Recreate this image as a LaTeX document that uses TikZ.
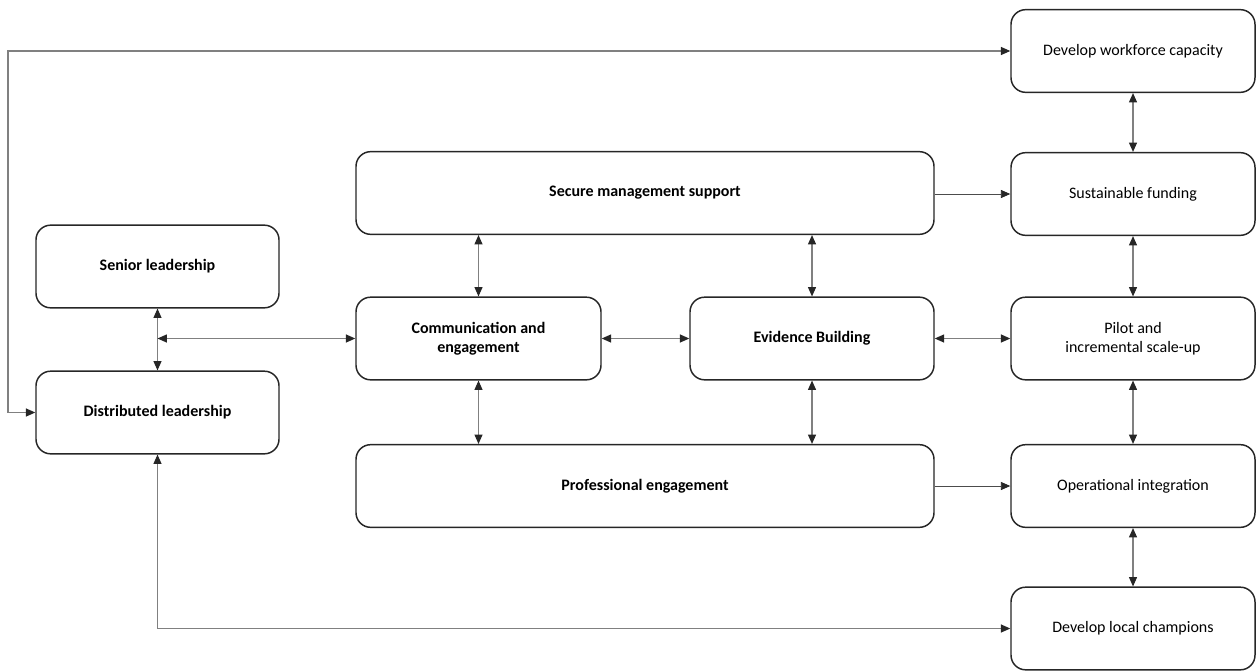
\documentclass[tikz,border=0pt]{standalone}
\usepackage{fontspec}
\setmainfont{Carlito}
\usetikzlibrary{arrows.meta}
\begin{document}
\begin{tikzpicture}[x=0.75pt,y=-0.75pt,
  >={Triangle[length=7pt,width=6pt,color=black!85]},
  box/.style={draw=black!85, line width=1.1pt, rounded corners=11pt, fill=white,
    align=center, inner sep=2pt, font=\fontsize{12}{14.5}\selectfont},
  rbox/.style={box, minimum width=183pt, minimum height=62pt},
  bbox/.style={box, font=\fontsize{12}{14.5}\selectfont\bfseries, minimum height=62pt},
  conn/.style={draw=black!50, line width=0.8pt, <->},
  oneway/.style={draw=black!70, line width=0.6pt, ->}
]
\useasboundingbox (0,0) rectangle (1256,671);
% right column
\node[rbox] (work)  at (1133,51)    {Develop workforce capacity};
\node[rbox] (sust)  at (1133,194)   {Sustainable funding};
\node[rbox] (pilot) at (1133,338.5) {Pilot and\\incremental scale-up};
\node[rbox] (oper)  at (1133,486)   {Operational integration};
\node[rbox] (champ) at (1133,628.5) {Develop local champions};
% middle
\node[bbox, minimum width=433.5pt] (secure) at (645,193)   {Secure management support};
\node[bbox, minimum width=183.75pt] (comm)  at (478.5,338.5) {Communication and\\engagement};
\node[bbox, minimum width=183pt] (evid)     at (812,338.5) {Evidence Building};
\node[bbox, minimum width=433.5pt] (prof)   at (645,486)   {Professional engagement};
% left
\node[bbox, minimum width=182.25pt] (senior) at (157.5,266.5) {Senior leadership};
\node[bbox, minimum width=182.25pt] (dist)   at (157.5,412.5) {Distributed leadership};
% connectors
\coordinate (lc) at (8,0);
\draw[conn] (dist.west) -- (dist.west -| lc) |- (work.west);
\draw[conn] (dist.south) |- (champ.west);
\draw[conn] (work.south) -- (sust.north);
\draw[conn] (sust.south) -- (pilot.north);
\draw[conn] (pilot.south) -- (oper.north);
\draw[conn] (oper.south) -- (champ.north);
\draw[oneway] (secure.east |- sust.west) -- (sust.west);
\draw[oneway] (prof.east |- oper.west) -- (oper.west);
\draw[conn] (senior.south) -- (dist.north);
\draw[conn] (senior.south |- comm.west) -- (comm.west);
\draw[conn] (comm.east) -- (evid.west);
\draw[conn] (evid.east) -- (pilot.west);
\draw[conn] (comm.north |- secure.south) -- (comm.north);
\draw[conn] (evid.north |- secure.south) -- (evid.north);
\draw[conn] (comm.south) -- (comm.south |- prof.north);
\draw[conn] (evid.south) -- (evid.south |- prof.north);
\end{tikzpicture}
\end{document}
